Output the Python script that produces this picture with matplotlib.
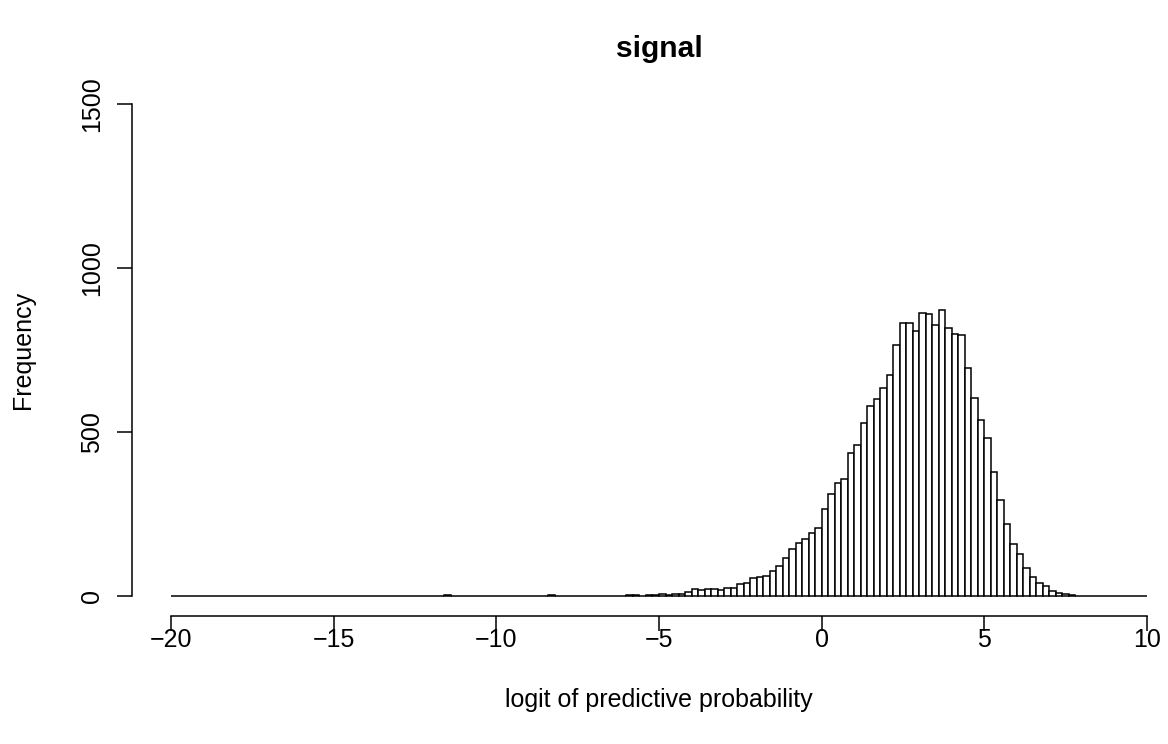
import numpy as np
import matplotlib
matplotlib.use("Agg")
import matplotlib.pyplot as plt

# Histogram of logit of predictive probability (bins of width 0.2 from -20 to 10)
bin_start = -20.0
bin_width = 0.2
counts = [
    0, 0, 0, 0, 0, 0, 0, 0, 0, 0,          # -20.0 .. -18.2
    0, 0, 0, 0, 0, 0, 0, 0, 0, 0,          # -18.0 .. -16.2
    0, 0, 0, 0, 0, 0, 0, 0, 0, 0,          # -16.0 .. -14.2
    0, 0, 0, 0, 0, 0, 0, 0, 0, 0,          # -14.0 .. -12.2
    0, 0, 2, 0, 0, 0, 0, 0, 0, 0,          # -12.0 .. -10.2
    0, 0, 0, 0, 0, 0, 0, 1, 3, 1,          # -10.0 .. -8.2
    1, 0, 1, 0, 1, 0, 1, 1, 0, 1,          # -8.0 .. -6.2
    2, 2, 1, 2, 3, 5, 3, 5, 7, 11,         # -6.0 .. -4.2
    21, 19, 20, 20, 17, 24, 25, 37, 41, 56,            # -4.0 .. -2.2
    57, 62, 76, 92, 117, 143, 162, 173, 193, 208,      # -2.0 .. -0.2
    266, 310, 345, 358, 436, 460, 528, 579, 600, 633,  # 0.0 .. 1.8
    674, 766, 833, 832, 808, 863, 861, 826, 872, 818,  # 2.0 .. 3.8
    798, 797, 696, 603, 538, 483, 377, 292, 220, 159,  # 4.0 .. 5.8
    129, 86, 57, 39, 32, 16, 10, 5, 2, 1,              # 6.0 .. 7.8
    0, 0, 0, 0, 0, 0, 0, 0, 0, 0,          # 8.0 .. 9.8
]
x_ticks = [-20, -15, -10, -5, 0, 5, 10]
y_ticks = [0, 500, 1000, 1500]
title = "signal"
xlabel = "logit of predictive probability"
ylabel = "Frequency"

plt.rcParams['font.family'] = ['Liberation Sans', 'DejaVu Sans']

W, H = 1168, 744
fig = plt.figure(figsize=(W / 100, H / 100), dpi=100)
ax = fig.add_axes([132 / W, (H - 615.7) / H, (1186 - 132) / W, (615.7 - 84.3) / H])

lefts = bin_start + bin_width * np.arange(len(counts))
ax.bar(lefts, counts, width=bin_width, align='edge', facecolor='white',
       edgecolor='black', linewidth=1.1)

ax.set_xlim(-21.2, 11.2)
ax.set_ylim(-60, 1560)
for s in ['top', 'right']:
    ax.spines[s].set_visible(False)
ax.spines['bottom'].set_bounds(-20, 10)
ax.spines['left'].set_bounds(0, 1500)
for s in ['bottom', 'left']:
    ax.spines[s].set_linewidth(1.1)

ax.set_xticks(x_ticks)
ax.set_xticklabels([str(v).replace('-', '\u2212') for v in x_ticks])
ax.set_yticks(y_ticks)
ax.set_yticklabels([str(v) for v in y_ticks], rotation=90, va='center')
ax.tick_params(axis='both', direction='out', length=10.8, width=1.1,
               labelsize=18, color='black')
ax.tick_params(axis='x', pad=-2)
ax.tick_params(axis='y', pad=9)

cx = (132 + 1186) / 2 / W
fig.text(cx, 1 - 49 / H, title, ha='center', va='center', fontsize=21.6,
         fontweight='bold')
fig.text(cx, 1 - 700 / H, xlabel, ha='center', va='center', fontsize=18)
fig.text(23 / W, 1 - 350 / H, ylabel, ha='center', va='center', fontsize=18,
         rotation=90)

fig.savefig('out.png', dpi=100)
